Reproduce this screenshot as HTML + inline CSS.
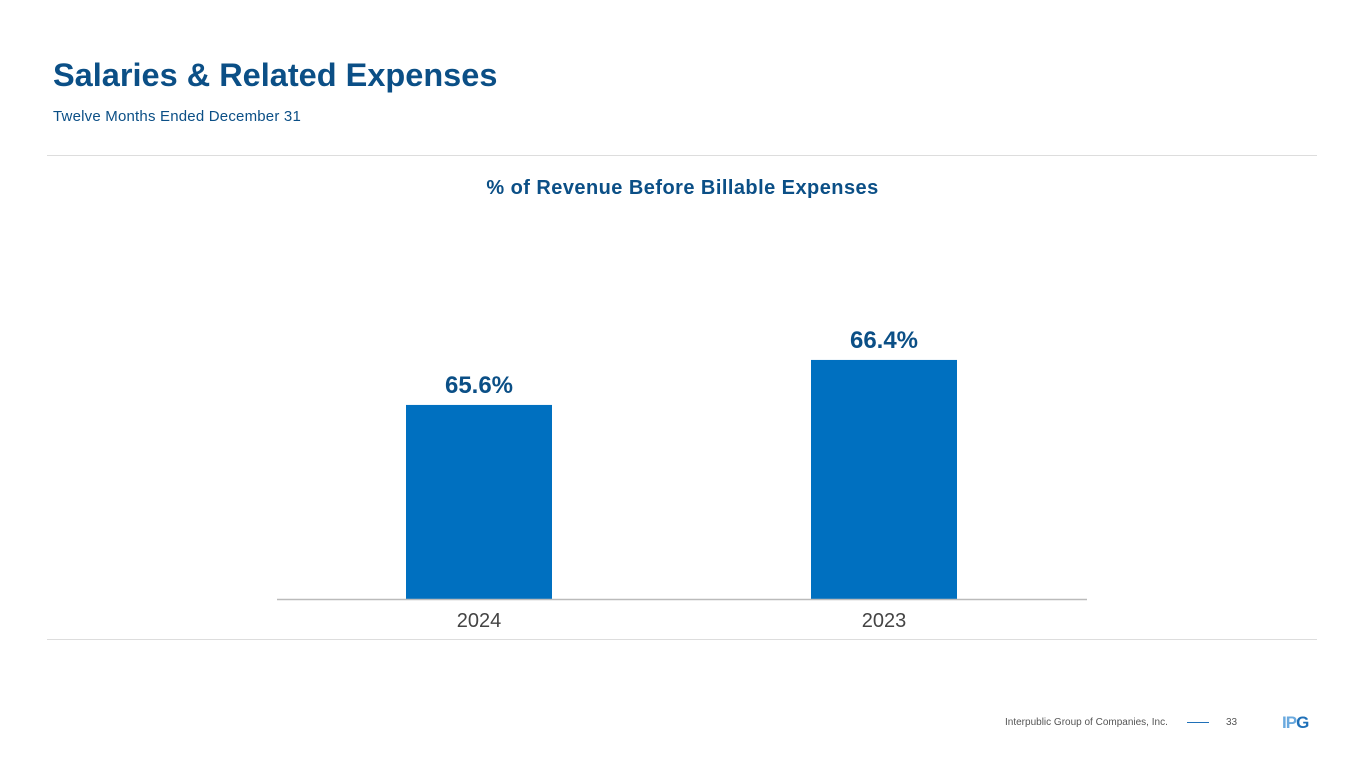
<!DOCTYPE html>
<html><head><meta charset="utf-8"><style>
body{margin:0;width:1365px;height:768px;background:#fff;font-family:"Liberation Sans",sans-serif;position:relative;overflow:hidden}
.a{position:absolute}
</style></head><body>
<div class="a" style="left:53px;top:57px;font-size:32.5px;font-weight:bold;color:#0b4f86;">Salaries &amp; Related Expenses</div>
<div class="a" style="left:53px;top:108px;font-size:15px;letter-spacing:0.2px;color:#0b4f86;">Twelve Months Ended December 31</div>
<div class="a" style="left:47px;top:155px;width:1270px;height:1px;background:#ddd"></div>
<div class="a" style="left:47px;top:639px;width:1270px;height:1px;background:#ddd"></div>
<div class="a" style="left:0;width:1365px;text-align:center;top:177px;font-size:20px;letter-spacing:0.45px;font-weight:bold;color:#0b4f86;">% of Revenue Before Billable Expenses</div>
<svg class="a" style="left:0;top:0" width="1365" height="768">
<g id="g"></g>
</svg>
<div class="a" style="left:1005px;top:717px;font-size:10px;color:#555">Interpublic Group of Companies, Inc.</div>
<div class="a" style="left:1187px;top:722px;width:22px;height:1px;background:#1f70b8"></div>
<div class="a" style="left:1226px;top:717px;font-size:10px;color:#555">33</div>
<div class="a" style="left:1282px;top:713px;font-size:17px;font-weight:bold;letter-spacing:-1px;"><span style="color:#6aa9de">IP</span><span style="color:#1f70b8">G</span></div>
<script>
const categories=["2024","2023"];
const values=[65.6,66.4];
const labels=["65.6%","66.4%"];
const yMin=62.15, k=56.25, base=599, x0=406, step=405, bw=146;
const g=document.getElementById('g');const ns="http://www.w3.org/2000/svg";
function y(v){return base-(v-yMin)*k;}
function mk(t,a){const e=document.createElementNS(ns,t);for(const q in a)e.setAttribute(q,a[q]);g.appendChild(e);return e;}
categories.forEach((c,i)=>{
 const x=x0+i*step;
 const r=mk('rect',{x:x,y:y(values[i]),width:bw,height:base-y(values[i]),fill:'#0070c0'});
 
 
 const t=mk('text',{x:x+bw/2,y:y(values[i])-12,'text-anchor':'middle','font-size':24,'font-weight':'bold',fill:'#0b4f86','font-family':'Liberation Sans'});t.textContent=labels[i];
 
 
 const l=mk('text',{x:x+bw/2,y:627,'text-anchor':'middle','font-size':20,fill:'#444','font-family':'Liberation Sans'});l.textContent=c;
 
 
});
const ax=mk('line',{x1:277,x2:1087,y1:base+0.5,y2:base+0.5,stroke:'#bbb','stroke-width':1.5});


</script>
</body></html>
